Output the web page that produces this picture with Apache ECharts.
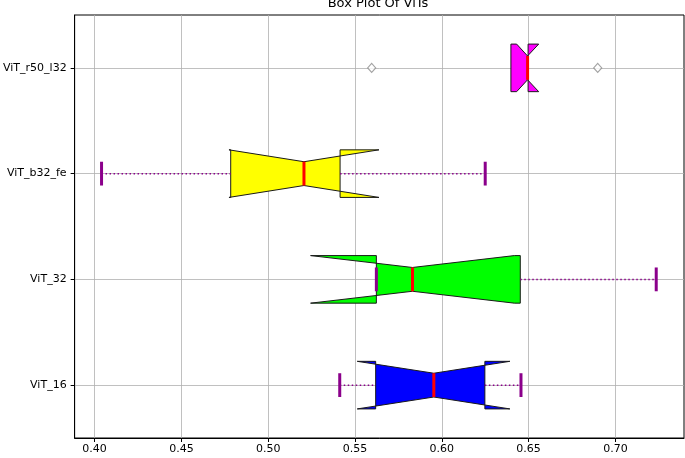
<!DOCTYPE html>
<html>
<head>
<meta charset="utf-8">
<script src="https://cdn.jsdelivr.net/npm/echarts@6/dist/echarts.min.js"></script>
<style>
html,body{margin:0;padding:0;background:#fff;}
#chart{width:685px;height:458px;}
</style>
</head>
<body>
<div id="chart"></div>
<script>
// ---- data ----
const categories = ['ViT_16', 'ViT_32', 'ViT_b32_fe', 'ViT_r50_l32'];
const positions = [1, 2, 3, 4];
const whiskerLow  = [0.5412, 0.5623, 0.4040, null];
const q1          = [0.5619, 0.5623, 0.4784, 0.6398];
const ciLow       = [0.5513, 0.5244, 0.4774, 0.6431];
const median      = [0.5954, 0.5831, 0.5206, 0.6494];
const ciHigh      = [0.6392, 0.6418, 0.5638, 0.6558];
const q3          = [0.6248, 0.6452, 0.5414, 0.6497];
const whiskerHigh = [0.6456, 0.7235, 0.6250, null];
const outlierPos  = [4, 4];
const outlierVals = [0.5596, 0.6898];
const xTicks = [0.40, 0.45, 0.50, 0.55, 0.60, 0.65, 0.70];
const boxColors = ['#0000ff', '#00ff00', '#ffff00', '#ff00ff'];

const boxData = positions.map((p, i) => [p, whiskerLow[i], q1[i], ciLow[i], median[i], ciHigh[i], q3[i], whiskerHigh[i]]);
const flierData = outlierVals.map((v, i) => [v, outlierPos[i]]);

const FONT = 'DejaVu Sans';
const HALF = 0.225, QUART = 0.1125;

function renderBox(params, api) {
  const pos = api.value(0);
  const wlo = api.value(1), b1 = api.value(2), clo = api.value(3), med = api.value(4),
        chi = api.value(5), b3 = api.value(6), whi = api.value(7);
  const P = (x, dy) => api.coord([x, pos + dy]);
  const children = [];
  children.push({
    type: 'polygon',
    shape: { points: [P(b1,-HALF), P(clo,-HALF), P(med,-QUART), P(chi,-HALF), P(b3,-HALF),
                      P(b3,HALF), P(chi,HALF), P(med,QUART), P(clo,HALF), P(b1,HALF)] },
    style: { fill: boxColors[params.dataIndex], stroke: '#1a1a1a', lineWidth: 1 }
  });
  const purple = '#8b008b';
  const seg = (xa, ya, xb, yb, style) => {
    const a = api.coord([xa, ya]), b = api.coord([xb, yb]);
    children.push({ type: 'line', shape: { x1: a[0], y1: a[1], x2: b[0], y2: b[1] }, style: style });
  };
  const dotted = { stroke: purple, lineWidth: 1.5, lineDash: [1.5, 2.5] };
  const cap = { stroke: purple, lineWidth: 3 };
  if (!isNaN(wlo) && wlo < b1) seg(wlo, pos, b1, pos, dotted);
  if (!isNaN(whi) && whi > b3) seg(b3, pos, whi, pos, dotted);
  if (!isNaN(wlo)) seg(wlo, pos - QUART, wlo, pos + QUART, cap);
  if (!isNaN(whi)) seg(whi, pos - QUART, whi, pos + QUART, cap);
  seg(med, pos - QUART, med, pos + QUART, { stroke: '#ff0000', lineWidth: 3 });
  return { type: 'group', children: children };
}

const chart = echarts.init(document.getElementById('chart'), null, { renderer: 'canvas' });
chart.setOption({
  animation: false,
  backgroundColor: '#ffffff',
  textStyle: { fontFamily: FONT },
  title: {
    text: 'Box Plot Of ViTs',
    left: 378, top: -3, textAlign: 'center', padding: 0,
    textStyle: { fontFamily: FONT, fontSize: 13, fontWeight: 'normal', color: '#000' }
  },
  grid: { left: 73, right: 1, top: 15, bottom: 20, show: true, borderColor: '#000', borderWidth: 1, backgroundColor: 'transparent' },
  xAxis: {
    type: 'value', min: 0.3885, max: 0.7395, splitNumber: 7,
    axisLine: { show: true, lineStyle: { color: '#000', width: 1 } },
    axisTick: { show: true, length: 4, lineStyle: { color: '#000' }, customValues: xTicks },
    axisLabel: { color: '#000', fontSize: 11, fontFamily: FONT, margin: 6, customValues: xTicks,
                 hideOverlap: false,
                 formatter: v => (Math.abs(v / 0.05 - Math.round(v / 0.05)) < 1e-6) ? v.toFixed(2) : '' },
    splitLine: { show: true, lineStyle: { color: '#b0b0b0', width: 0.8 } }
  },
  yAxis: {
    type: 'value', min: 0.5, max: 4.5, splitNumber: 4,
    axisLine: { show: true, lineStyle: { color: '#000', width: 1 } },
    axisTick: { show: true, length: 4, lineStyle: { color: '#000' }, customValues: positions },
    axisLabel: { color: '#000', fontSize: 11, fontFamily: FONT, margin: 8, customValues: positions,
                 hideOverlap: false,
                 formatter: v => (Number.isInteger(v) && v >= 1 && v <= 4) ? categories[v - 1] : '' },
    splitLine: { show: true, lineStyle: { color: '#b0b0b0', width: 0.8 } }
  },
  series: [
    {
      type: 'custom', renderItem: renderBox, data: boxData,
      encode: { x: [1, 2, 3, 4, 5, 6, 7], y: 0 }, clip: false, z: 3
    },
    {
      type: 'scatter', data: flierData, symbol: 'diamond', symbolSize: [8, 9],
      itemStyle: { color: '#ffffff', borderColor: '#8c8c8c', borderWidth: 1.2 }, z: 4
    }
  ]
});
</script>
</body>
</html>
